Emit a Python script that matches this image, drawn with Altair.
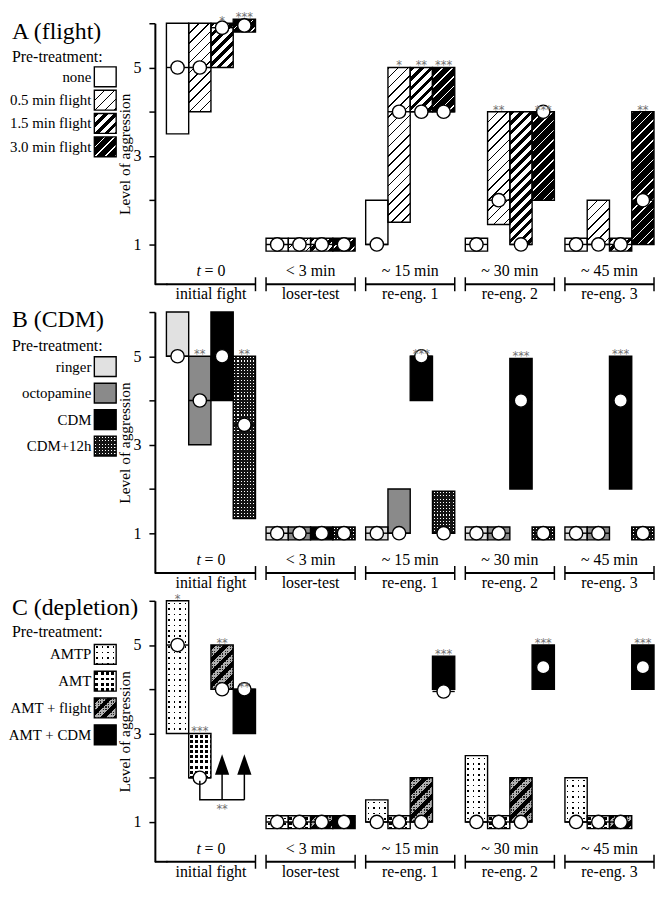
import math
import altair as alt
import pandas as pd

# ---------------- data ----------------
GROUPS = ["t0", "lt", "re1", "re2", "re3"]
TOP_LABELS = ["t = 0", "< 3 min", "~ 15 min", "~ 30 min", "~ 45 min"]
BOTTOM_LABELS = ["initial fight", "loser-test", "re-eng. 1", "re-eng. 2", "re-eng. 3"]

A_TITLE = "A (flight)"
A_TREAT = ["none", "0.5 min flight", "1.5 min flight", "3.0 min flight"]
A_Q1 = [[3.5, 4, 5, 5.95], [1, 1, 1, 1], [1, 1.5, 4, 4], [1, 1.45, 1, 2], [1, 1, 1, 1]]
A_Q3 = [[6, 6, 6, 5.95], [1, 1, 1, 1], [2, 5, 5, 5], [1, 4, 4, 4], [1, 2, 1, 4]]
A_MED = [[5, 5, 5.9, 5.95], [1, 1, 1, 1], [1, 4, 4, 4], [1, 2, 1, 4], [1, 1, 1, 2]]
A_SIG = [["", "", "*", "***"], ["", "", "", ""], ["", "*", "**", "***"],
         ["", "**", "", "***"], ["", "", "", "**"]]

B_TITLE = "B (CDM)"
B_TREAT = ["ringer", "octopamine", "CDM", "CDM+12h"]
B_Q1 = [[5, 3, 4, 1.33], [1, 1, 1, 1], [1, 1, 4, 1], [1, 1, 2, 1], [1, 1, 2, 1]]
B_Q3 = [[6, 5, 6, 5], [1, 1, 1, 1], [1, 2, 5, 1.95], [1, 1, 4.95, 1], [1, 1, 5, 1]]
B_MED = [[5, 4, 5, 3.45], [1, 1, 1, 1], [1, 1, 5, 1], [1, 1, 4, 1], [1, 1, 4, 1]]
B_SIG = [["", "**", "", "**"], ["", "", "", ""], ["", "", "***", ""],
         ["", "", "***", ""], ["", "", "***", ""]]

C_TITLE = "C (depletion)"
C_TREAT = ["AMTP", "AMT", "AMT + flight", "AMT + CDM"]
C_Q1 = [[3, 2, 4, 3], [1, 1, 1, 1], [1, 1, 1, 4], [1, 1, 1, 4], [1, 1, 1, 4]]
C_Q3 = [[6, 3, 5, 4], [1, 1, 1, 1], [1.5, 1, 2, 4.75], [2.5, 1, 2, 5], [2, 1, 1, 5]]
C_MED = [[5, 2, 4, 4], [1, 1, 1, 1], [1, 1, 1, 3.95], [1, 1, 1, 4.5], [1, 1, 1, 4.5]]
C_SIG = [["*", "***", "**", "**"], ["", "", "", ""], ["", "", "", "***"],
         ["", "", "", "***"], ["", "", "", "***"]]

# comparison bracket in panel C (t = 0): AMT -> AMT + flight, AMT + CDM
C_BR_SLOTS = [1, 1, 3]
C_BR_LEVELS = [1.93, 1.5, 1.5]
C_ARROW_SLOTS = [2, 3]
C_ARROW_FROM, C_ARROW_TO = 1.5, 2.12
C_ARROW_HEAD = 2.3
C_BR_SIG, C_BR_SIG_SLOT, C_BR_SIG_LEVEL = "**", 2, 1.28

# ---------------- layout / style ----------------
SERIF = "Liberation Serif"
W, H = 503, 263
SPACING = 28
YMIN, YMAX = 0.1, 6.0
PPL = H / (YMAX - YMIN)
PAD_IN, PAD_OUT = 0.106, 0.058
STEP = W / (len(GROUPS) - PAD_IN + 2 * PAD_OUT)
BAND = STEP * (1 - PAD_IN)
SUB = BAND / 4
X0 = 2 * PAD_OUT * STEP
DEG_LO, DEG_HI = 0.15, 0.14
TRANSP = "rgba(255,255,255,0)"
STAR_COLOR = "#707070"
LEFT = -144

STYLE_A = [("solid", "white"), ("diag", "white", "black", 7, 0.16),
           ("diag", "white", "black", 7, 0.47), ("diag", "black", "white", 7, 0.16)]
STYLE_B = [("solid", "#e1e1e1"), ("solid", "#8a8a8a"), ("solid", "black"),
           ("dots", "#141414", "white", 3.2, 1.1)]
STYLE_C = [("dots", "white", "black", 5.5, 1.6), ("dots", "white", "black", 5.2, 3.0),
           ("dotsdiag", "#b0b0b0", "#202020", 2.6, 1.2, 9, 0.45), ("solid", "black")]

LEG_A = (9, 34, 44, 23.5)
LEG_B = (8, 34, 45, 26.7)
LEG_C = (7, 31, 44, 27)


def mkgrad(x2, y2, n, frac, fg, bg, phase=0.0):
    stops = [(0.0, bg)]
    for k in range(-1, int(math.ceil(n)) + 2):
        a = (k + phase) / n
        b = (k + phase + frac) / n
        if b <= 0 or a >= 1:
            continue
        a, b = max(a, 0.0), min(b, 1.0)
        stops += [(a, bg), (a, fg), (b, fg), (b, bg)]
    stops.append((1.0, bg))
    return alt.LinearGradient(
        gradient="linear", x1=0, y1=0, x2=round(x2, 5), y2=round(y2, 5),
        stops=[alt.GradientStop(color=c, offset=round(o, 5)) for o, c in stops])


def diag(w, h, period, frac, fg, bg):
    k = (w * w + h * h) / (w + h)
    n = (w + h) / (math.sqrt(2) * period)
    return mkgrad(w / k, h / k, n, frac, fg, bg)


def fills_for(style, w, h):
    kind = style[0]
    if kind == "solid":
        return [style[1]]
    if kind == "diag":
        _, bg, fg, p, fr = style
        return [diag(w, h, p, fr, fg, bg)]
    if kind == "dots":
        _, bg, fg, p, d = style
        fr = d / p
        return [bg,
                mkgrad(1, 0, w / p, fr, fg, TRANSP, (1 - fr) / 2),
                mkgrad(0, 1, h / p, fr, TRANSP, bg, (1 - fr) / 2)]
    if kind == "dotsdiag":
        _, bg, fg, p, d, p2, fr2 = style
        return fills_for(("dots", bg, fg, p, d), w, h) + [diag(w, h, p2, fr2, "black", TRANSP)]
    return ["white"]


X_SC = alt.Scale(type="band", domain=GROUPS, paddingInner=PAD_IN, paddingOuter=PAD_OUT, align=1)
XO_SC = alt.Scale(domain=[0, 1, 2, 3], paddingInner=0, paddingOuter=0)
Y_SC = alt.Scale(domain=[YMIN, YMAX], nice=False, zero=False)
Y_AX = alt.Axis(values=[1, 2, 3, 4, 5, 6],
                labelExpr="datum.value % 2 == 1 ? datum.label : ''",
                title="Level of aggression", grid=False,
                tickSize=6, tickWidth=1.5, tickColor="black",
                domainWidth=2, domainColor="black",
                labelFont=SERIF, labelFontSize=16, labelColor="black", labelPadding=8,
                titleFont=SERIF, titleFontSize=15.5, titleFontWeight="normal",
                titleColor="black", titlePadding=1)

X = alt.X("group:N", scale=X_SC, axis=None, title=None)
XO = alt.XOffset("slot:O", scale=XO_SC)
ONE = pd.DataFrame({"k": [0]})
GDF = pd.DataFrame({"group": GROUPS, "top": TOP_LABELS, "bottom": BOTTOM_LABELS})


def Yq(field):
    return alt.Y(f"{field}:Q", scale=Y_SC, axis=Y_AX)


def panel(title, treat, q1, q3, med, sig, styles, leg, extra=False):
    rows = []
    for gi, g in enumerate(GROUPS):
        for s in range(4):
            lo, hi = q1[gi][s], q3[gi][s]
            if lo == hi:
                lo_d, hi_d = lo - DEG_LO, hi + DEG_HI
            else:
                lo_d, hi_d = lo, hi
            rows.append(dict(id=len(rows), group=g, slot=s, lo_d=lo_d, hi_d=hi_d,
                             med=med[gi][s], sig=sig[gi][s]))
    df = pd.DataFrame(rows)
    layers = []
    # pattern fills, bar by bar
    for r in rows:
        h = (r["hi_d"] - r["lo_d"]) * PPL
        for f in fills_for(styles[r["slot"]], SUB, h):
            layers.append(
                alt.Chart(df).transform_filter(alt.datum.id == r["id"])
                .mark_bar(fill=f)
                .encode(x=X, xOffset=XO, y=Yq("lo_d"), y2=alt.Y2("hi_d")))
    # outlines
    layers.append(alt.Chart(df).mark_bar(fillOpacity=0, stroke="black", strokeWidth=1.4)
                  .encode(x=X, xOffset=XO, y=Yq("lo_d"), y2=alt.Y2("hi_d")))
    # median lines and circles
    layers.append(alt.Chart(df).mark_tick(orient="horizontal", size=SUB, thickness=1.4,
                                          color="black", opacity=1)
                  .encode(x=X, xOffset=XO, y=Yq("med")))
    layers.append(alt.Chart(df).mark_point(shape="circle", filled=True, fill="white",
                                           stroke="black", strokeWidth=1.4, size=180, opacity=1)
                  .encode(x=X, xOffset=XO, y=Yq("med")))
    # significance stars
    layers.append(alt.Chart(df).mark_text(font="DejaVu Sans", fontSize=11.5, color=STAR_COLOR,
                                          baseline="alphabetic", dy=2)
                  .encode(x=X, xOffset=XO, y=Yq("hi_d"), text="sig:N"))
    # bottom category brackets
    layers.append(alt.Chart(GDF).mark_rect(color="black")
                  .encode(x=X, y=alt.value(H - 1), y2=alt.value(H + 1)))
    layers.append(alt.Chart(ONE).mark_rect(color="black")
                  .encode(x=alt.value(0), x2=alt.value(X0 + 1), y=alt.value(H - 1), y2=alt.value(H + 1)))
    layers.append(alt.Chart(GDF).transform_filter(alt.datum.group != GROUPS[0])
                  .mark_rule(color="black", strokeWidth=1.5)
                  .encode(x=alt.X("group:N", scale=X_SC, axis=None, bandPosition=0),
                          y=alt.value(H - 7), y2=alt.value(H + 7)))
    layers.append(alt.Chart(GDF).mark_rule(color="black", strokeWidth=1.5)
                  .encode(x=alt.X("group:N", scale=X_SC, axis=None, bandPosition=1),
                          y=alt.value(H - 7), y2=alt.value(H + 7)))
    layers.append(alt.Chart(GDF).transform_filter(alt.datum.group != GROUPS[0])
                  .mark_text(font=SERIF, fontSize=16, baseline="middle", color="black")
                  .encode(x=X, y=alt.value(H - 13), text="top:N"))
    t_var, t_rest = TOP_LABELS[0].split(" ", 1)
    layers.append(alt.Chart(GDF).transform_filter(alt.datum.group == GROUPS[0])
                  .mark_text(font=SERIF, fontSize=16, fontStyle="italic", baseline="middle",
                             align="left", dx=-14.5, text=t_var, color="black")
                  .encode(x=X, y=alt.value(H - 13)))
    layers.append(alt.Chart(GDF).transform_filter(alt.datum.group == GROUPS[0])
                  .mark_text(font=SERIF, fontSize=16, baseline="middle",
                             align="right", dx=14.5, text=t_rest, color="black")
                  .encode(x=X, y=alt.value(H - 13)))
    layers.append(alt.Chart(GDF).mark_text(font=SERIF, fontSize=16, baseline="middle", color="black")
                  .encode(x=X, y=alt.value(H + 10), text="bottom:N"))
    # title + legend
    title_y, pre_y, box0, bstep = leg
    layers.append(alt.Chart(ONE).mark_text(text=title, font=SERIF, fontSize=24, align="left",
                                           baseline="middle", color="black")
                  .encode(x=alt.value(LEFT), y=alt.value(title_y)))
    layers.append(alt.Chart(ONE).mark_text(text="Pre-treatment:", font=SERIF, fontSize=16,
                                           align="left", baseline="middle", color="black")
                  .encode(x=alt.value(LEFT), y=alt.value(pre_y)))
    for s in range(4):
        y0 = box0 + s * bstep
        for f in fills_for(styles[s], 22, 20):
            layers.append(alt.Chart(ONE).mark_rect(fill=f)
                          .encode(x=alt.value(-61), x2=alt.value(-39),
                                  y=alt.value(y0), y2=alt.value(y0 + 20)))
        layers.append(alt.Chart(ONE).mark_rect(fillOpacity=0, stroke="black", strokeWidth=1.4)
                      .encode(x=alt.value(-61), x2=alt.value(-39),
                              y=alt.value(y0), y2=alt.value(y0 + 20)))
        layers.append(alt.Chart(ONE).mark_text(text=treat[s], font=SERIF, fontSize=15,
                                               align="right", baseline="middle", color="black")
                      .encode(x=alt.value(-64), y=alt.value(y0 + 10)))
    if extra:
        br = pd.DataFrame({"group": [GROUPS[0]] * 3, "slot": C_BR_SLOTS,
                           "lev": C_BR_LEVELS, "ord": [0, 1, 2]})
        layers.append(alt.Chart(br).mark_line(color="black", strokeWidth=1.5)
                      .encode(x=X, xOffset=XO, y=Yq("lev"), order="ord:Q"))
        ar = pd.DataFrame({"group": [GROUPS[0]] * 2, "slot": C_ARROW_SLOTS,
                           "a": [C_ARROW_FROM] * 2, "b": [C_ARROW_TO] * 2,
                           "head": [C_ARROW_HEAD] * 2})
        layers.append(alt.Chart(ar).mark_rule(color="black", strokeWidth=1.5)
                      .encode(x=X, xOffset=XO, y=Yq("a"), y2=alt.Y2("b")))
        layers.append(alt.Chart(ar).mark_point(shape="M0,-1L0.7,1L-0.7,1Z", filled=True,
                                               color="black", size=420, opacity=1)
                      .encode(x=X, xOffset=XO, y=Yq("head")))
        lab = pd.DataFrame({"group": [GROUPS[0]], "slot": [C_BR_SIG_SLOT],
                            "lev": [C_BR_SIG_LEVEL], "sig": [C_BR_SIG]})
        layers.append(alt.Chart(lab).mark_text(font="DejaVu Sans", fontSize=11.5, color=STAR_COLOR,
                                               baseline="middle")
                      .encode(x=X, xOffset=XO, y=Yq("lev"), text="sig:N"))
    return alt.layer(*layers).properties(width=W, height=H)


pA = panel(A_TITLE, A_TREAT, A_Q1, A_Q3, A_MED, A_SIG, STYLE_A, LEG_A)
pB = panel(B_TITLE, B_TREAT, B_Q1, B_Q3, B_MED, B_SIG, STYLE_B, LEG_B)
pC = panel(C_TITLE, C_TREAT, C_Q1, C_Q3, C_MED, C_SIG, STYLE_C, LEG_C, extra=True)

chart = (alt.vconcat(pA, pB, pC, spacing=SPACING, bounds="flush")
         .properties(padding=0)
         .configure_view(stroke=None))

chart.save("out.html", embed_options={"renderer": "svg", "actions": False})
